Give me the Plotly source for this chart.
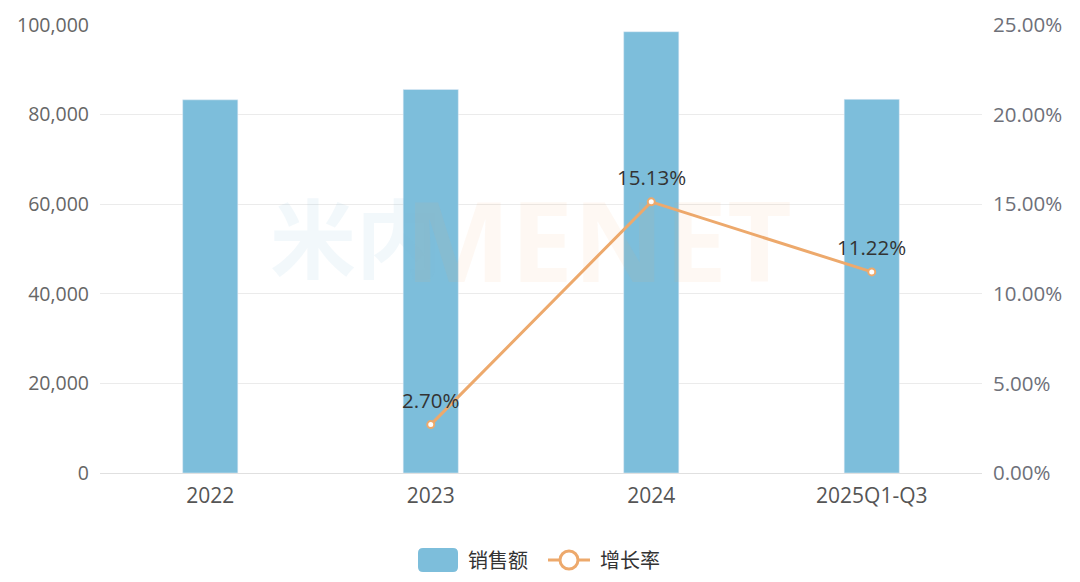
import plotly.graph_objects as go

categories = ["2022", "2023", "2024", "2025Q1-Q3"]
sales = [83300, 85600, 98500, 83400]
growth_cats = ["2023", "2024", "2025Q1-Q3"]
growth = [2.70, 15.13, 11.22]
left_ticks = [0, 20000, 40000, 60000, 80000, 100000]
right_ticks = [0, 5, 10, 15, 20, 25]

FONT = "Open Sans, Noto Sans CJK SC, sans-serif"
BAR = "#7DBEDB"
LINE = "#EDA96C"

W, H = 1080, 582
L, R, T, B = 92, 106, 17, 117
PW, PH = W - L - R, H - T - B
OFF = 8  # page body margin


def px(x):
    return (x - OFF - L) / PW


def py(y):
    return (H - B - (y - OFF)) / PH


fig = go.Figure()
fig.add_trace(go.Bar(
    x=categories, y=sales, name="销售额", marker=dict(color=BAR),
    width=0.25, yaxis="y", showlegend=False,
))
fig.add_trace(go.Scatter(
    x=growth_cats, y=growth, name="增长率", yaxis="y2",
    mode="lines+markers",
    line=dict(color=LINE, width=3),
    marker=dict(size=7, color="white", line=dict(color=LINE, width=2)),
    showlegend=False,
))

annotations = [
    dict(x=categories.index(c), y=v, xref="x", yref="y2", text=f"{v:.2f}%",
         showarrow=False, yshift=25,
         font=dict(size=20.5, color="#333333", family=FONT))
    for c, v in zip(growth_cats, growth)
]
annotations += [
    dict(text="<b>米内</b>", xref="paper", yref="paper", x=px(268), y=py(238),
         yanchor="middle", showarrow=False,
         font=dict(size=86, color="rgba(125,190,219,0.10)", family=FONT)),
    dict(text="<b>MENET</b>", xref="paper", yref="paper", x=px(598), y=py(238),
         yanchor="middle", showarrow=False,
         font=dict(size=112, color="rgba(238,168,106,0.08)", family=FONT)),
    dict(text="销售额", xref="paper", yref="paper", x=px(466), y=py(560),
         xanchor="left", yanchor="middle", showarrow=False,
         font=dict(size=20, color="#333333", family=FONT)),
    dict(text="增长率", xref="paper", yref="paper", x=px(598), y=py(560),
         xanchor="left", yanchor="middle", showarrow=False,
         font=dict(size=20, color="#333333", family=FONT)),
]

# custom legend symbols
x0, x1, y0, y1, r = px(418), px(458), py(572), py(548), 5
rx, ry = r / PW, r / PH
bar_path = (
    f"M {x0+rx},{y0} L {x1-rx},{y0} Q {x1},{y0} {x1},{y0+ry} "
    f"L {x1},{y1-ry} Q {x1},{y1} {x1-rx},{y1} L {x0+rx},{y1} "
    f"Q {x0},{y1} {x0},{y1-ry} L {x0},{y0+ry} Q {x0},{y0} {x0+rx},{y0} Z"
)
shapes = [
    dict(type="path", path=bar_path, xref="paper", yref="paper",
         fillcolor=BAR, line=dict(width=0)),
    dict(type="line", xref="paper", yref="paper", x0=px(548), x1=px(590),
         y0=py(560), y1=py(560), line=dict(color=LINE, width=3)),
    dict(type="circle", xref="paper", yref="paper", x0=px(560), x1=px(578),
         y0=py(569), y1=py(551), fillcolor="white", line=dict(color=LINE, width=3)),
]

fig.update_layout(
    width=W, height=H,
    margin=dict(l=L, r=R, t=T, b=B, autoexpand=False),
    plot_bgcolor="white", paper_bgcolor="white",
    font=dict(family=FONT, size=20, color="#666666"),
    showlegend=False,
    xaxis=dict(
        type="category", categoryorder="array", categoryarray=categories,
        range=[-0.5, len(categories) - 0.5],
        showgrid=False, showline=True, linecolor="#E0E0E0", linewidth=1,
        ticks="", tickfont=dict(size=21, color="#555555"), automargin=False,
        ticklabelstandoff=4,
    ),
    yaxis=dict(
        range=[0, 100000], tickvals=left_ticks,
        ticktext=[f"{v:,}" for v in left_ticks],
        showgrid=True, gridcolor="#EBEBEB", zeroline=False,
        tickfont=dict(size=19.5, color="#666666"), ticks="", automargin=False,
        ticklabelstandoff=10,
    ),
    yaxis2=dict(
        range=[0, 25], tickvals=right_ticks,
        ticktext=[f"{v:.2f}%" for v in right_ticks],
        overlaying="y", side="right", showgrid=False, zeroline=False,
        tickfont=dict(size=20.5, color="#6E7079"), ticks="", automargin=False,
        ticklabelstandoff=10,
    ),
    annotations=annotations,
    shapes=shapes,
)

fig.write_html("out.html")
